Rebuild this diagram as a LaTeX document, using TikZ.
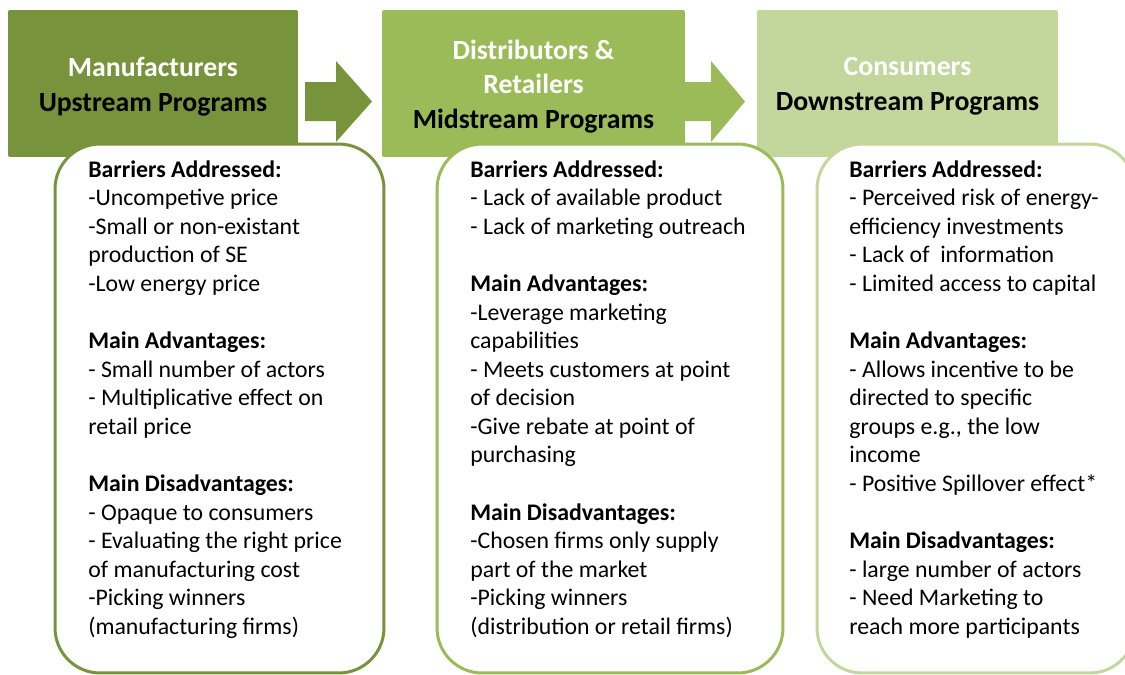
\documentclass[tikz,border=0pt]{standalone}
\usepackage{fontspec}
\setmainfont{Carlito}
\definecolor{upgreen}{HTML}{77933C}
\definecolor{midgreen}{HTML}{9BBB59}
\definecolor{downgreen}{HTML}{C3D69B}
\begin{document}
\begin{tikzpicture}[x=0.02cm,y=-0.02cm,
    head/.style={rectangle,rounded corners=0.04cm,minimum height=2.94cm,inner sep=0},
    title/.style={align=center,inner sep=0,font={\bfseries\fontsize{15.8pt}{19.7pt}\selectfont}},
    card/.style={rectangle,rounded corners=0.9cm,line width=1.7pt,fill=white,minimum height=10.58cm,inner sep=0},
    txt/.style={anchor=north west,align=left,inner sep=0,font={\fontsize{13.55pt}{16.27pt}\selectfont}}]
    \useasboundingbox (0,0) rectangle (1125,674);

    % header boxes
    \node[head,fill=upgreen,minimum width=5.8cm] (up) at (153,83.5) {};
    \node[head,fill=midgreen,minimum width=6.06cm] (mid) at (533.5,83.5) {};
    \node[head,fill=downgreen,minimum width=6.02cm] (down) at (907.5,83.5) {};
    \node[title] (uptitle) at (153,86.5) {\textcolor{white}{Manufacturers}\\Upstream Programs};
    \node[title] (midtitle) at (533.5,86.5) {\textcolor{white}{Distributors \&}\\\textcolor{white}{Retailers}\\Midstream Programs};
    \node[title] (downtitle) at (907.5,86.5) {\textcolor{white}{Consumers}\\Downstream Programs};

    % block arrows
    \fill[upgreen] (305,82) -- (336,82) -- (336,61) -- (372,101.5) -- (336,142) -- (336,121) -- (305,121) -- cycle;
    \fill[midgreen] (685,82) -- (711,82) -- (711,61) -- (745,101.5) -- (711,142) -- (711,121) -- (685,121) -- cycle;

    % cards
    \node[card,draw=upgreen,minimum width=6.58cm] (upcard) at (219.5,408.5) {};
    \node[card,draw=midgreen,minimum width=6.92cm] (midcard) at (610,408.5) {};
    \node[card,draw=downgreen,minimum width=6.36cm] (downcard) at (976,408.5) {};

    \node[txt] (uptxt) at (88,160) {{\bfseries Barriers Addressed:}\\
        -Uncompetive price\\
        -Small or non-existant\\
        production of SE\\
        -Low energy price\\[16.27pt]
        {\bfseries Main Advantages:}\\
        - Small number of actors\\
        - Multiplicative effect on\\
        retail price\\[16.27pt]
        {\bfseries Main Disadvantages:}\\
        - Opaque to consumers\\
        - Evaluating the right price\\
        of manufacturing cost\\
        -Picking winners\\
        (manufacturing firms)};

    \node[txt] (midtxt) at (470,160) {{\bfseries Barriers Addressed:}\\
        - Lack of available product\\
        - Lack of marketing outreach\\[16.27pt]
        {\bfseries Main Advantages:}\\
        -Leverage marketing\\
        capabilities\\
        - Meets customers at point\\
        of decision\\
        -Give rebate at point of\\
        purchasing\\[16.27pt]
        {\bfseries Main Disadvantages:}\\
        -Chosen firms only supply\\
        part of the market\\
        -Picking winners\\
        (distribution or retail firms)};

    \node[txt] (downtxt) at (849,160) {{\bfseries Barriers Addressed:}\\
        - Perceived risk of energy-\\
        efficiency investments\\
        - Lack of\ \ information\\
        - Limited access to capital\\[16.27pt]
        {\bfseries Main Advantages:}\\
        - Allows incentive to be\\
        directed to specific\\
        groups e.g., the low\\
        income\\
        - Positive Spillover effect*\\[16.27pt]
        {\bfseries Main Disadvantages:}\\
        - large number of actors\\
        - Need Marketing to\\
        reach more participants};
\end{tikzpicture}
\end{document}
